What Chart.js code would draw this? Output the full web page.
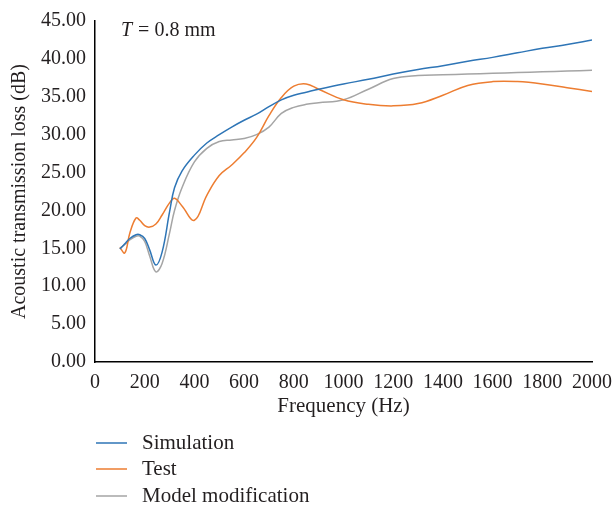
<!DOCTYPE html>
<html>
<head>
<meta charset="utf-8">
<script src="https://cdn.jsdelivr.net/npm/chart.js@4"></script>
<style>
  html, body { margin: 0; padding: 0; background: #fff; }
  #wrap { width: 613px; height: 508px; position: relative; }
</style>
</head>
<body>
<div id="wrap"><canvas id="chart"></canvas></div>
<script>
const frequency = [100, 120, 140, 165, 180, 200, 220, 245, 270, 300, 320, 350, 400, 450, 500, 550, 600, 650, 700, 750, 800, 850, 900, 1000, 1100, 1200, 1300, 1400, 1500, 1600, 1700, 1800, 1900, 2000];

const simulation = [14.9, 15.6, 16.3, 16.8, 16.8, 16.3, 14.8, 12.8, 14.5, 19.8, 23.0, 25.2, 27.3, 28.9, 30.0, 31.0, 31.9, 32.7, 33.7, 34.6, 35.2, 35.6, 36.0, 36.7, 37.3, 38.0, 38.6, 39.1, 39.7, 40.2, 40.8, 41.4, 41.9, 42.5];

const test = [15.1, 14.4, 17.0, 19.0, 18.7, 18.0, 17.8, 18.2, 19.4, 21.0, 21.6, 20.6, 18.7, 22.0, 24.6, 26.0, 27.6, 29.6, 32.5, 34.9, 36.4, 36.7, 36.0, 34.6, 34.0, 33.8, 34.1, 35.2, 36.5, 37.0, 37.0, 36.7, 36.2, 35.7];

const modelModification = [15.0, 15.5, 16.1, 16.6, 16.6, 15.9, 14.0, 11.9, 13.0, 17.0, 20.0, 23.0, 26.4, 28.2, 29.1, 29.3, 29.5, 30.0, 31.0, 32.8, 33.6, 34.0, 34.2, 34.6, 36.0, 37.4, 37.8, 37.9, 38.0, 38.1, 38.2, 38.3, 38.4, 38.5];

const seriesNames = ["Simulation", "Test", "Model modification"];
const seriesColors = ["#2E75B6", "#ED7D31", "#A5A5A5"];

const serif = "'Liberation Serif', 'DejaVu Serif', serif";

const toPoints = (ys) => ys.map((y, i) => ({ x: frequency[i], y: y }));

// legend stacked under the plot, plus the thickness note
const extras = {
  id: "extras",
  afterDraw(chart) {
    const ctx = chart.ctx;
    ctx.save();
    ctx.font = "21px " + serif;
    ctx.textBaseline = "middle";
    ctx.fillStyle = "#231f20";
    const rows = [443, 469, 496];
    chart.data.datasets.forEach((ds, i) => {
      ctx.strokeStyle = ds.borderColor;
      ctx.lineWidth = 1.5;
      ctx.beginPath();
      ctx.moveTo(96, rows[i]);
      ctx.lineTo(127, rows[i]);
      ctx.stroke();
      ctx.fillText(ds.label, 142, rows[i]);
    });

    ctx.font = "italic 20px " + serif;
    ctx.fillText("T", 121, 31);
    const w = ctx.measureText("T").width;
    ctx.font = "20px " + serif;
    ctx.fillText(" = 0.8 mm", 121 + w + 1, 31);
    ctx.restore();
  }
};

new Chart(document.getElementById("chart"), {
  type: "line",
  data: {
    datasets: [
      { label: seriesNames[0], data: toPoints(simulation), borderColor: seriesColors[0] },
      { label: seriesNames[1], data: toPoints(test), borderColor: seriesColors[1] },
      { label: seriesNames[2], data: toPoints(modelModification), borderColor: seriesColors[2] },
    ],
  },
  options: {
    responsive: true,
    maintainAspectRatio: false,
    animation: false,
    layout: { padding: { top: 18, right: 21, bottom: 86, left: 0 } },
    elements: {
      line: { borderWidth: 1.5, tension: 0.4, fill: false },
      point: { radius: 0 },
    },
    scales: {
      x: {
        type: "linear",
        min: 0,
        max: 2000,
        grid: { display: false, drawTicks: false },
        border: { display: true, color: "#000", width: 1.5 },
        ticks: {
          stepSize: 200,
          color: "#231f20",
          padding: 9,
          maxRotation: 0,
          font: { family: serif, size: 20 },
          callback: (v) => String(v),
        },
        title: {
          display: true,
          text: "Frequency (Hz)",
          color: "#231f20",
          padding: 3,
          font: { family: serif, size: 21 },
        },
        afterFit: (scale) => {
          scale.height = 60;
          scale.paddingRight = 0; // let the last label hang into the right margin
          scale.paddingLeft = 0;
        },
      },
      y: {
        min: 0,
        max: 45,
        grid: { display: false, drawTicks: false },
        border: { display: true, color: "#000", width: 1.5 },
        ticks: {
          stepSize: 5,
          color: "#231f20",
          padding: 9,
          font: { family: serif, size: 20 },
          callback: (v) => Number(v).toFixed(2),
        },
        title: {
          display: true,
          text: "Acoustic transmission loss (dB)",
          color: "#231f20",
          padding: 8,
          font: { family: serif, size: 20 },
        },
        afterFit: (scale) => { scale.width = 95; },
      },
    },
    plugins: {
      legend: { display: false },
      tooltip: { enabled: false },
    },
  },
  plugins: [extras],
});
</script>
</body>
</html>
